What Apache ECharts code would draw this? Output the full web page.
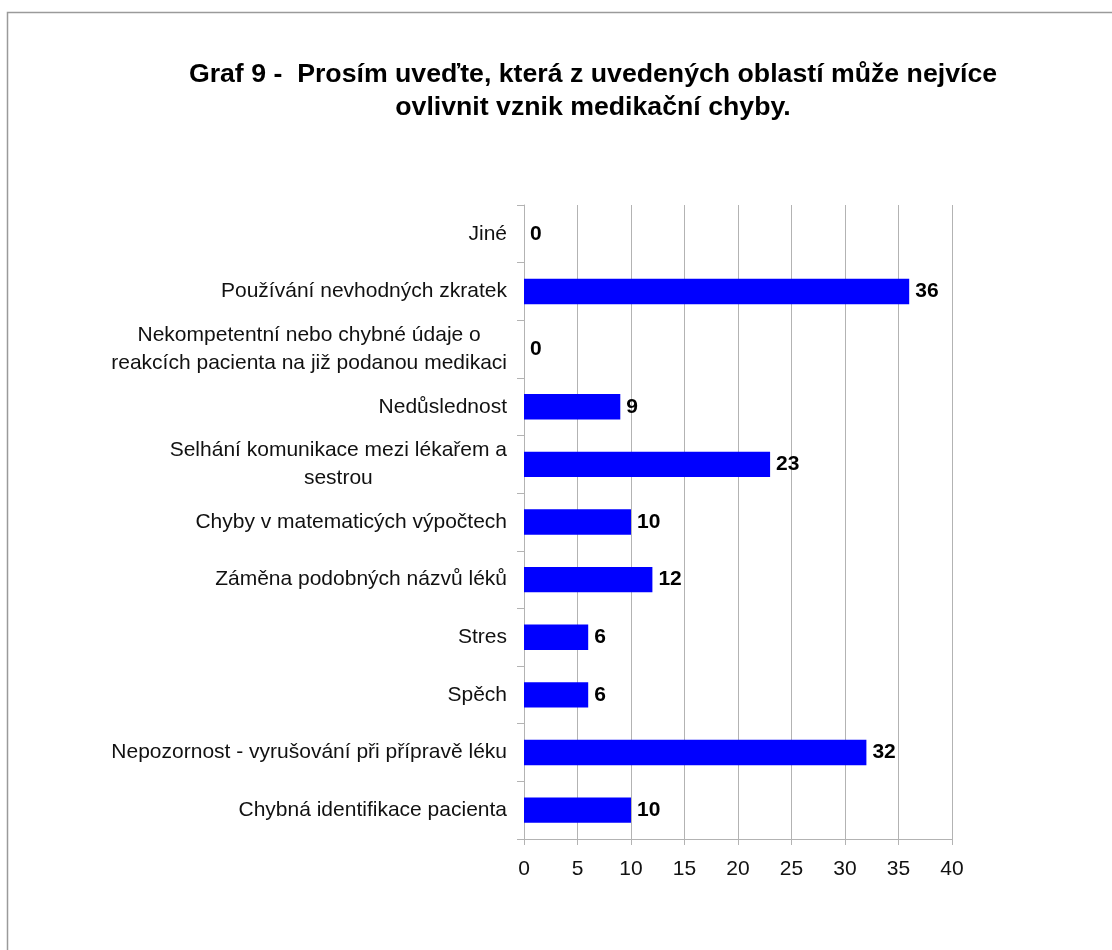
<!DOCTYPE html>
<html>
<head>
<meta charset="utf-8">
<title>Graf 9</title>
<script src="https://cdn.jsdelivr.net/npm/echarts@6/dist/echarts.min.js"></script>
<style>
  html, body { margin: 0; padding: 0; background: #ffffff; }
  #chart { width: 1112px; height: 950px; }
</style>
</head>
<body>
<div id="chart"></div>
<script>
// Categories listed top to bottom
const categories = [
  'Jiné',
  'Používání nevhodných zkratek',
  'Nekompetentní nebo chybné údaje o\nreakcích pacienta na již podanou medikaci',
  'Nedůslednost',
  'Selhání komunikace mezi lékařem a\nsestrou',
  'Chyby v matematicých výpočtech',
  'Záměna podobných názvů léků',
  'Stres',
  'Spěch',
  'Nepozornost - vyrušování při přípravě léku',
  'Chybná identifikace pacienta'
];

// Number of answers per area
const counts = [0, 36, 0, 9, 23, 10, 12, 6, 6, 32, 10];

// Value axis ticks
const axisMin = 0;
const axisMax = 40;
const axisStep = 5;

const FONT = '"Liberation Sans", Arial, sans-serif';
const GRID_COLOR = '#b3b3b3';

const chart = echarts.init(document.getElementById('chart'), null, { renderer: 'canvas' });

chart.setOption({
  backgroundColor: '#ffffff',
  animation: false,
  title: {
    text: 'Graf 9 -  Prosím uveďte, která z uvedených oblastí může nejvíce\novlivnit vznik medikační chyby.',
    left: 593,
    top: 58,
    padding: 0,
    textAlign: 'center',
    textStyle: {
      fontFamily: FONT,
      fontSize: 26.7,
      fontWeight: 'bold',
      color: '#000000',
      lineHeight: 33
    }
  },
  graphic: [{
    // outer frame of the chart area
    type: 'rect',
    shape: { x: 7.5, y: 12.5, width: 1200, height: 1000 },
    style: { fill: 'none', stroke: '#9a9a9a', lineWidth: 1.5 },
    silent: true
  }],
  grid: {
    left: 524,
    right: 160,
    top: 205,
    bottom: 111,
    outerBoundsMode: 'none'
  },
  xAxis: {
    type: 'value',
    min: axisMin,
    max: axisMax,
    interval: axisStep,
    axisLine: { show: true, lineStyle: { color: GRID_COLOR, width: 1 } },
    axisTick: { show: true, length: 6, lineStyle: { color: GRID_COLOR } },
    splitLine: { show: true, lineStyle: { color: GRID_COLOR, width: 1 } },
    axisLabel: {
      margin: 20,
      fontFamily: FONT,
      fontSize: 21,
      color: '#111111'
    }
  },
  yAxis: {
    type: 'category',
    inverse: true,
    data: categories,
    axisLine: { show: true, lineStyle: { color: GRID_COLOR, width: 1 } },
    axisTick: { show: true, length: 7, lineStyle: { color: GRID_COLOR } },
    splitLine: { show: false },
    axisLabel: {
      margin: 17,
      interval: 0,
      formatter: function (value) {
        return value.split('\n').map(function (line) { return '{c|' + line + '}'; }).join('\n');
      },
      rich: {
        c: {
          fontFamily: FONT,
          fontSize: 21,
          lineHeight: 28,
          color: '#111111',
          align: 'center'
        }
      }
    }
  },
  series: [{
    type: 'bar',
    data: counts,
    barCategoryGap: '56%',
    itemStyle: { color: '#0000ff' },
    label: {
      show: true,
      position: 'right',
      distance: 6,
      fontFamily: FONT,
      fontSize: 21,
      fontWeight: 'bold',
      color: '#000000'
    }
  }]
});
</script>
</body>
</html>
